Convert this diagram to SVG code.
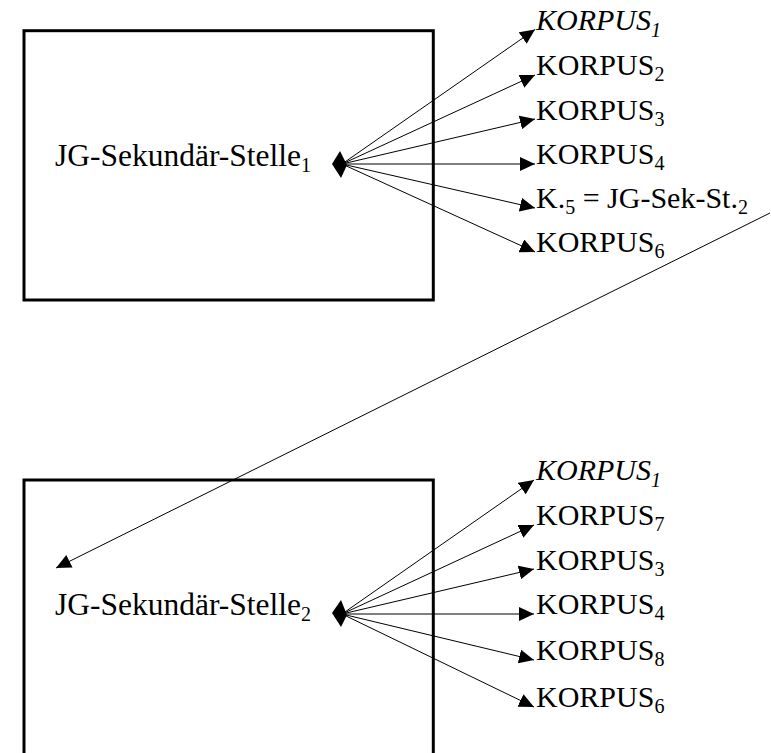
<svg xmlns="http://www.w3.org/2000/svg" width="771" height="753" viewBox="0 0 771 753">
<defs>
<marker id="ah" markerUnits="userSpaceOnUse" markerWidth="16" markerHeight="14" refX="15" refY="7" orient="auto">
<path d="M0,0 L15,7 L0,14 z" fill="#000"/>
</marker>
</defs>
<g id="node-stelle1">
<rect x="24" y="30.7" width="409.3" height="269.3" fill="none" stroke="#000" stroke-width="3"/>
<text x="55" y="165.5" font-family="Liberation Serif" font-size="31.5" fill="#000">JG-Sekund&#228;r-Stelle<tspan font-size="20" dy="6">1</tspan></text>
</g>
<g id="node-stelle2">
<rect x="24" y="480" width="409.3" height="300" fill="none" stroke="#000" stroke-width="3"/>
<text x="55" y="615" font-family="Liberation Serif" font-size="31.5" fill="#000">JG-Sekund&#228;r-Stelle<tspan font-size="20" dy="6">2</tspan></text>
</g>
<g id="labels-top" font-family="Liberation Serif" font-size="30" fill="#000">
<text x="536" y="29.5" font-style="italic">KORPUS<tspan font-size="20" dy="7">1</tspan></text>
<text x="536" y="75">KORPUS<tspan font-size="20" dy="6">2</tspan></text>
<text x="536" y="120">KORPUS<tspan font-size="20" dy="6">3</tspan></text>
<text x="536" y="163.5">KORPUS<tspan font-size="20" dy="6">4</tspan></text>
<text x="536" y="208">K.<tspan font-size="20" dy="6">5</tspan><tspan dy="-6"> = JG-Sek-St.</tspan><tspan font-size="20" dy="6">2</tspan></text>
<text x="536" y="252">KORPUS<tspan font-size="20" dy="6">6</tspan></text>
</g>
<g id="labels-bottom" font-family="Liberation Serif" font-size="30" fill="#000">
<text x="536" y="480" font-style="italic">KORPUS<tspan font-size="20" dy="7">1</tspan></text>
<text x="536" y="525">KORPUS<tspan font-size="20" dy="6">7</tspan></text>
<text x="536" y="569.5">KORPUS<tspan font-size="20" dy="6">3</tspan></text>
<text x="536" y="614">KORPUS<tspan font-size="20" dy="6">4</tspan></text>
<text x="536" y="660">KORPUS<tspan font-size="20" dy="6">8</tspan></text>
<text x="536" y="707">KORPUS<tspan font-size="20" dy="6">6</tspan></text>
</g>
<g id="connectors" stroke="#000" stroke-width="1" fill="none">
<line x1="342" y1="164" x2="535" y2="29.5" marker-end="url(#ah)"/>
<line x1="342" y1="164" x2="535" y2="75" marker-end="url(#ah)"/>
<line x1="342" y1="164" x2="535" y2="119" marker-end="url(#ah)"/>
<line x1="342" y1="164" x2="535" y2="164" marker-end="url(#ah)"/>
<line x1="342" y1="164" x2="535" y2="208" marker-end="url(#ah)"/>
<line x1="342" y1="164" x2="535" y2="252" marker-end="url(#ah)"/>
<line x1="342" y1="614" x2="534" y2="480" marker-end="url(#ah)"/>
<line x1="342" y1="614" x2="534" y2="525" marker-end="url(#ah)"/>
<line x1="342" y1="614" x2="534" y2="569" marker-end="url(#ah)"/>
<line x1="342" y1="614" x2="534" y2="614" marker-end="url(#ah)"/>
<line x1="342" y1="614" x2="534" y2="660" marker-end="url(#ah)"/>
<line x1="342" y1="614" x2="534" y2="707" marker-end="url(#ah)"/>
<line x1="770" y1="213" x2="56" y2="568" marker-end="url(#ah)"/>
<polygon points="332,164 340,151 347,165 341,178" fill="#000" stroke="none"/>
<polygon points="332,613 341,600 347,615 341,627" fill="#000" stroke="none"/>
</g>
</svg>
